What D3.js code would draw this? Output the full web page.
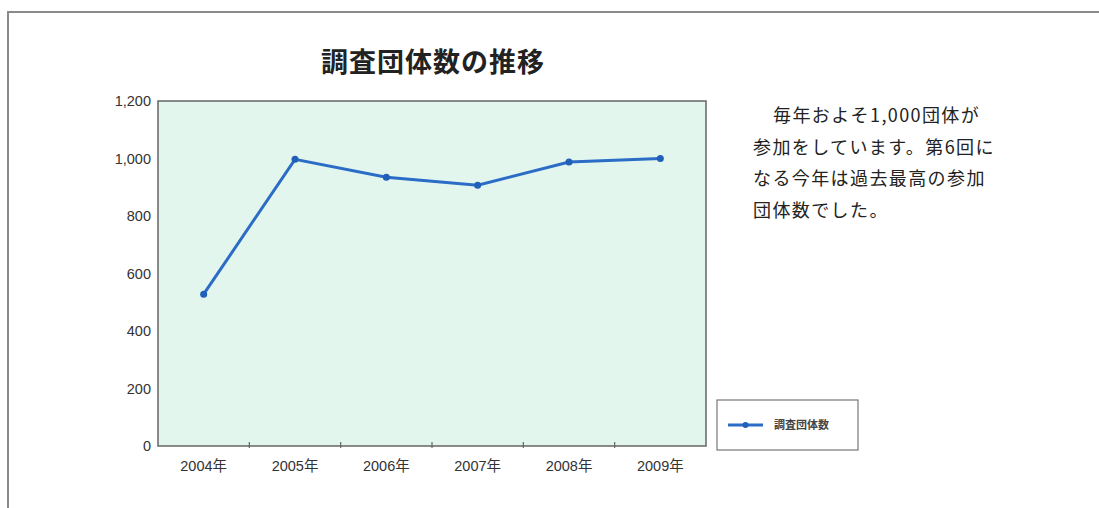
<!DOCTYPE html>
<html>
<head>
<meta charset="utf-8">
<script src="https://cdn.jsdelivr.net/npm/d3@7"></script>
<style>
  body { margin: 0; background: #fff; }
  svg { display: block; }
</style>
</head>
<body>
<script>
// data
var years = ["2004年", "2005年", "2006年", "2007年", "2008年", "2009年"];
var counts = [528, 997, 935, 907, 988, 1000];
var yTicks = [0, 200, 400, 600, 800, 1000, 1200];
var noteLines = ["毎年およそ1,000団体が", "参加をしています。第6回に", "なる今年は過去最高の参加", "団体数でした。"];
var seriesName = "調査団体数";

var w = 1099, h = 508;
var svg = d3.select("body").append("svg").attr("width", w).attr("height", h);

// outer frame of the scanned page
svg.append("rect")
	.attr("x", 8).attr("y", 12)
	.attr("width", w + 20).attr("height", h + 20)
	.attr("fill", "none").attr("stroke", "#8a8a8a").attr("stroke-width", 2);

var plotL = 158, plotR = 706, plotT = 101, plotB = 446;

var x = d3.scaleBand().domain(years).range([plotL, plotR]);
var y = d3.scaleLinear().domain([0, 1200]).range([plotB, plotT]);

svg.append("text")
	.attr("x", 433).attr("y", 72)
	.attr("text-anchor", "middle")
	.attr("font-family", "Noto Sans CJK JP")
	.attr("font-weight", "bold")
	.attr("font-size", 27)
	.attr("letter-spacing", 1)
	.attr("fill", "#222")
	.text("調査団体数の推移");

// plot area
svg.append("rect")
	.attr("x", plotL).attr("y", plotT)
	.attr("width", plotR - plotL).attr("height", plotB - plotT)
	.attr("fill", "#e2f6ee")
	.attr("stroke", "#666").attr("stroke-width", 1.5);

var yAxis = d3.axisLeft(y).tickValues(yTicks).tickSize(0).tickPadding(7)
	.tickFormat(d3.format(","));
var gy = svg.append("g").attr("transform", "translate(" + plotL + ",0)").call(yAxis);
gy.select(".domain").remove();
gy.selectAll("text")
	.attr("font-family", "Liberation Sans")
	.attr("font-size", 14.5)
	.attr("fill", "#333");

var xAxis = d3.axisBottom(x).tickSize(0).tickPadding(15);
var gx = svg.append("g").attr("transform", "translate(0," + plotB + ")").call(xAxis);
gx.select(".domain").remove();
gx.selectAll("text")
	.attr("font-family", "Liberation Sans, Noto Sans CJK JP")
	.attr("font-size", 14.5)
	.attr("fill", "#333");

// category separators on the bottom axis
svg.selectAll(".sep")
	.data(years.slice(1))
	.enter()
		.append("line")
		.attr("x1", function(d) {return x(d)})
		.attr("x2", function(d) {return x(d)})
		.attr("y1", plotB - 4)
		.attr("y2", plotB + 2)
		.attr("stroke", "#666")
		.attr("stroke-width", 1.2);

var line = d3.line()
	.x(function(d, i) {return x(years[i]) + x.bandwidth() / 2})
	.y(function(d) {return y(d)});

svg.append("path")
	.datum(counts)
	.attr("d", line)
	.attr("fill", "none")
	.attr("stroke", "#2a6cc6")
	.attr("stroke-width", 3);

svg.selectAll(".pt")
	.data(counts)
	.enter()
		.append("circle")
		.attr("cx", function(d, i) {return x(years[i]) + x.bandwidth() / 2})
		.attr("cy", function(d) {return y(d)})
		.attr("r", 3.5)
		.attr("fill", "#2160b8");

// legend
var lg = svg.append("g");
lg.append("rect")
	.attr("x", 717).attr("y", 400)
	.attr("width", 141).attr("height", 50)
	.attr("fill", "#fff").attr("stroke", "#777").attr("stroke-width", 1.2);
lg.append("line")
	.attr("x1", 728).attr("x2", 763).attr("y1", 425).attr("y2", 425)
	.attr("stroke", "#2a6cc6").attr("stroke-width", 3);
lg.append("circle")
	.attr("cx", 745.5).attr("cy", 425).attr("r", 3).attr("fill", "#2160b8");
lg.append("text")
	.attr("x", 774).attr("y", 429)
	.attr("font-family", "Noto Sans CJK JP")
	.attr("font-weight", "bold")
	.attr("font-size", 11)
	.attr("fill", "#444")
	.text(seriesName);

// note on the right
svg.selectAll(".note")
	.data(noteLines)
	.enter()
		.append("text")
		.attr("x", function(d, i) {return i == 0 ? 773 : 753})
		.attr("y", function(d, i) {return 122 + i * 31.5})
		.attr("font-family", "Noto Sans CJK JP")
		.attr("font-size", 18)
		.attr("letter-spacing", 1.4)
		.attr("fill", "#222")
		.text(function(d) {return d});
</script>
</body>
</html>
